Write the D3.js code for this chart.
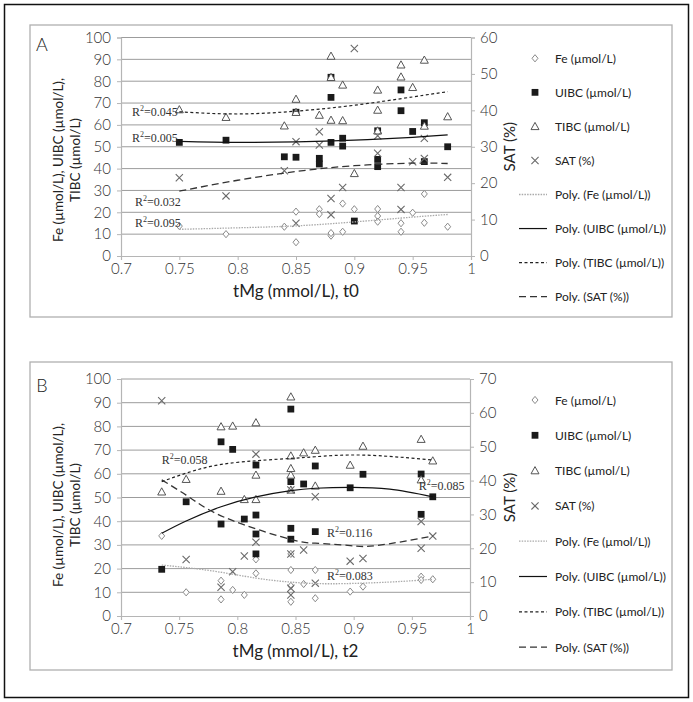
<!DOCTYPE html>
<html><head><meta charset="utf-8">
<script src="https://cdn.jsdelivr.net/npm/d3@7"></script>
<style>body{margin:0;background:#fff}text{font-family:Lato,"Open Sans",sans-serif}</style>
</head><body><svg id="c" width="693" height="702"></svg>
<script>
// ---------- DATA ----------
const xTicks = [0.7, 0.75, 0.8, 0.85, 0.9, 0.95, 1];
const xTickLabels = ["0.7", "0.75", "0.8", "0.85", "0.9", "0.95", "1"];
const leftTicks = [0, 10, 20, 30, 40, 50, 60, 70, 80, 90, 100];
const rightTicksA = [0, 10, 20, 30, 40, 50, 60];
const rightTicksB = [0, 10, 20, 30, 40, 50, 60, 70];
const legendLabels = ["Fe (\u00b5mol/L)", "UIBC (\u00b5mol/L)", "TIBC (\u00b5mol/L)", "SAT (%)",
  "Poly. (Fe (\u00b5mol/L))", "Poly. (UIBC (\u00b5mol/L))", "Poly. (TIBC (\u00b5mol/L))", "Poly. (SAT (%))"];

// Panel A (t0)
const feA = [[0.75,13.7],[0.79,10],[0.84,13.4],[0.85,20.3],[0.85,6.3],[0.87,21.4],[0.87,19.2],[0.88,9.3],[0.88,10.5],
  [0.89,24],[0.89,11.1],[0.9,21.4],[0.92,21.5],[0.92,18.3],[0.92,15.7],[0.94,15],[0.94,11.1],[0.95,19.8],[0.96,28.4],[0.96,15.2],[0.98,13.4]];
const uibcA = [[0.75,52],[0.79,53],[0.84,45.4],[0.85,45.2],[0.85,65.8],[0.87,44.7],[0.87,42.1],[0.88,81.8],[0.88,72.6],[0.88,52],
  [0.89,53.9],[0.89,50.3],[0.9,16],[0.92,57.3],[0.92,44.2],[0.92,40.9],[0.94,76],[0.94,66.5],[0.95,57],[0.96,61],[0.96,43.2],[0.98,50]];
const tibcA = [[0.75,67],[0.79,63.5],[0.84,59.6],[0.85,71.8],[0.85,65.8],[0.87,64.5],[0.88,91.5],[0.88,81.8],[0.88,62.2],[0.89,78.3],
  [0.89,62],[0.9,37.8],[0.92,76],[0.92,66.8],[0.92,57.3],[0.94,87.5],[0.94,82],[0.95,77.2],[0.96,89.7],[0.96,59.5],[0.98,63.8]];
const satA = [[0.75,21.5],[0.79,16.5],[0.84,23.4],[0.85,31.4],[0.85,9],[0.87,34.1],[0.87,30.5],[0.88,15.8],[0.88,11.3],[0.89,18.8],
  [0.9,57],[0.92,33],[0.92,28.2],[0.94,18.8],[0.94,12.8],[0.95,25.9],[0.96,32.3],[0.96,26.8],[0.98,21.6]];
const trendFeA = [[0.75,12.2],[0.8,12.9],[0.85,13.8],[0.9,15.6],[0.95,17.8],[0.98,19.0]];
const trendUibcA = [[0.75,52.5],[0.8,52],[0.85,52.2],[0.9,53],[0.95,54.3],[0.98,55.4]];
const trendTibcA = [[0.75,66],[0.8,65],[0.85,66.3],[0.9,69],[0.95,72.8],[0.98,75.2]];
const trendSatA = [[0.75,17.8],[0.8,20.8],[0.85,23.2],[0.9,24.8],[0.95,25.5],[0.98,25.4]];
const r2A = [["0.045",0.7094,65.9],["0.005",0.7094,54.0],["0.032",0.712,24.7],["0.095",0.712,15.1]];

// Panel B (t2)
const feB = [[0.735,33.8],[0.756,10],[0.786,14.9],[0.786,7],[0.796,11],[0.806,8.9],[0.816,23.9],[0.816,18],[0.846,26.2],[0.846,19.4],
  [0.846,12.7],[0.846,6],[0.857,13.5],[0.867,19.4],[0.867,7.5],[0.897,10.3],[0.908,12.4],[0.958,16.6],[0.958,15.2],[0.968,15.5]];
const uibcB = [[0.735,19.7],[0.756,48.2],[0.786,73.5],[0.786,38.8],[0.796,70.3],[0.806,40.9],[0.816,63.7],[0.816,42.6],[0.816,34.6],
  [0.816,26.2],[0.846,87.3],[0.846,56.7],[0.846,37],[0.846,32.4],[0.857,55.7],[0.867,63.3],[0.867,35.6],[0.897,54.1],[0.908,59.8],
  [0.958,59.9],[0.958,42.9],[0.968,50.3]];
const tibcB = [[0.735,52.4],[0.756,57.7],[0.786,79.9],[0.786,52.7],[0.796,80.2],[0.806,49.2],[0.816,81.6],[0.816,59.5],[0.816,49.2],
  [0.846,92.5],[0.846,67.6],[0.846,62.3],[0.846,59.5],[0.846,53.2],[0.857,68.9],[0.867,70],[0.867,54.9],[0.897,63.7],[0.908,71.7],
  [0.958,74.6],[0.958,57.5],[0.968,65.5]];
const satB = [[0.735,63.6],[0.756,16.7],[0.786,8.5],[0.796,13.1],[0.806,17.7],[0.816,47.8],[0.816,21.8],[0.846,37.2],[0.846,18.3],
  [0.846,8.2],[0.846,6.2],[0.857,19.5],[0.867,35.2],[0.867,9.7],[0.897,16.2],[0.908,17],[0.958,27.9],[0.958,20],[0.968,23.6]];
const trendFeB = [[0.735,21.5],[0.776,19.2],[0.816,16],[0.846,14.3],[0.88,13.6],[0.93,14.3],[0.968,15.5]];
const trendUibcB = [[0.735,34.9],[0.756,40.1],[0.786,46.1],[0.816,50.3],[0.846,52.9],[0.867,53.9],[0.897,54.3],[0.931,53.5],[0.968,50.3]];
const trendTibcB = [[0.735,56.7],[0.776,63],[0.816,65.5],[0.846,66.5],[0.867,67.2],[0.908,67.9],[0.968,65.8]];
const trendSatB = [[0.735,40.2],[0.756,35.7],[0.776,31.3],[0.806,26.9],[0.846,22.6],[0.867,21.5],[0.897,20.8],[0.92,20.8],[0.968,23.6]];
const r2B = [["0.058",0.735,65.8],["0.085",0.956,54.9],["0.116",0.877,35.0],["0.083",0.877,16.9]];

// ---------- DRAW ----------
const svg = d3.select("#c");
svg.append("rect").attr("x",4.5).attr("y",4.5).attr("width",684).attr("height",693)
  .attr("fill","none").attr("stroke","#111").attr("stroke-width",1.5);

const shapes = {
  fe: "M0,-3.6L3,0L0,3.6L-3,0Z",
  sq: "M-3.4,-3.4H3.4V3.4H-3.4Z",
  tri: "M0,-4L4,3.2H-4Z",
  x: "M-3.6,-3.6L3.6,3.6M3.6,-3.6L-3.6,3.6"
};
function marker(g, kind, x, y) {
  const p = g.append("path").attr("transform", `translate(${x},${y})`);
  if (kind === "fe") p.attr("d", shapes.fe).attr("fill", "#fff").attr("stroke", "#8a8a8a").attr("stroke-width", 1);
  if (kind === "sq") p.attr("d", shapes.sq).attr("fill", "#1a1a1a");
  if (kind === "tri") p.attr("d", shapes.tri).attr("fill", "#fff").attr("stroke", "#555").attr("stroke-width", 1);
  if (kind === "x") p.attr("d", shapes.x).attr("fill", "none").attr("stroke", "#6a6a6a").attr("stroke-width", 1.1);
}
const lineStyles = [
  {stroke:"#aaa", w:1.3, dash:"1.5,1.2"},
  {stroke:"#111", w:1.2, dash:null},
  {stroke:"#222", w:1.2, dash:"3,2.5"},
  {stroke:"#333", w:1.3, dash:"7,4"}
];

function panel(cfg) {
  const g = svg.append("g");
  g.append("rect").attr("x", cfg.box[0]).attr("y", cfg.box[1]).attr("width", cfg.box[2]).attr("height", cfg.box[3])
    .attr("fill", "none").attr("stroke", "#b0b0b0").attr("stroke-width", 1.3);
  const x = d3.scaleLinear().domain([0.7, 1]).range([cfg.x0, cfg.x1]);
  const yL = d3.scaleLinear().domain([0, 100]).range([cfg.yb, cfg.yt]);
  const yR = d3.scaleLinear().domain([0, cfg.rmax]).range([cfg.yb, cfg.yt]);

  g.append("g").selectAll("line").data(leftTicks.slice(1)).join("line")
    .attr("x1", cfg.x0).attr("x2", cfg.x1).attr("y1", d => yL(d)).attr("y2", d => yL(d))
    .attr("stroke", "#9c9c9c").attr("stroke-width", 1);

  const axL = g.append("g").attr("transform", `translate(${cfg.x0},0)`)
    .call(d3.axisLeft(yL).tickValues(leftTicks).tickSize(4).tickPadding(6));
  const axR = g.append("g").attr("transform", `translate(${cfg.x1},0)`)
    .call(d3.axisRight(yR).tickValues(cfg.rticks).tickSize(4).tickPadding(5));
  const axB = g.append("g").attr("transform", `translate(0,${cfg.yb})`)
    .call(d3.axisBottom(x).tickValues(xTicks).tickFormat((d,i) => xTickLabels[i]).tickSize(4).tickPadding(3));
  [axL, axR, axB].forEach(a => {
    a.select(".domain").attr("stroke", "#b5b5b5").attr("stroke-width", 1.2);
    a.selectAll(".tick line").attr("stroke", "#b5b5b5");
    a.selectAll("text").attr("fill", "#333").style("font-size", "15px").style("font-family", "Lato, sans-serif").style("font-weight", "300");
  });

  const series = [[cfg.fe,"fe",yL],[cfg.uibc,"sq",yL],[cfg.tibc,"tri",yL],[cfg.sat,"x",yR]];
  series.forEach(([arr, kind, ys]) => arr.forEach(d => marker(g, kind, x(d[0]), ys(d[1]))));

  const trends = [[cfg.tFe,yL],[cfg.tUibc,yL],[cfg.tTibc,yL],[cfg.tSat,yR]];
  trends.forEach(([arr, ys], i) => {
    const ln = d3.line().x(d => x(d[0])).y(d => ys(d[1])).curve(d3.curveNatural);
    const s = lineStyles[i];
    g.append("path").attr("d", ln(arr)).attr("fill", "none").attr("stroke", s.stroke)
      .attr("stroke-width", s.w).attr("stroke-dasharray", s.dash);
  });

  cfg.r2.forEach(r => {
    const t = g.append("text").attr("x", x(r[1])).attr("y", yL(r[2]) + 4)
      .style("font-family", "'Liberation Serif', 'DejaVu Serif', serif").style("font-size", "12px").attr("fill", "#333");
    t.append("tspan").text("R");
    t.append("tspan").text("2").attr("dy", -5).style("font-size", "8px");
    t.append("tspan").text("=" + r[0]).attr("dy", 5);
  });

  g.append("text").attr("x", 42).attr("y", cfg.yt + 13).attr("text-anchor", "middle")
    .style("font-size", "18px").style("font-weight", "300").attr("fill", "#222").text(cfg.letter);
  g.append("text").attr("x", (cfg.x0 + cfg.x1) / 2).attr("y", cfg.yb + 41).attr("text-anchor", "middle")
    .style("font-size", "17px").attr("fill", "#222").text(cfg.xtitle);
  const lt = g.append("text").attr("transform", `translate(63,${cfg.ymid}) rotate(-90)`).attr("text-anchor", "middle")
    .style("font-size", "13.5px").attr("fill", "#222");
  lt.append("tspan").attr("x", 0).attr("y", 0).text("Fe (\u00b5mol/L), UIBC (\u00b5mol/L),");
  lt.append("tspan").attr("x", 0).attr("y", 17).text("TIBC (\u00b5mol/L)");
  g.append("text").attr("transform", `translate(515,${(cfg.yt + cfg.yb) / 2}) rotate(-90)`).attr("text-anchor", "middle")
    .style("font-size", "15px").attr("fill", "#222").text("SAT (%)");

  legendLabels.forEach((lab, i) => {
    const yy = cfg.ly0 + i * cfg.lstep;
    if (i < 4) marker(g, ["fe","sq","tri","x"][i], 535, yy);
    else {
      const s = lineStyles[i - 4];
      g.append("line").attr("x1", 519).attr("x2", 547).attr("y1", yy).attr("y2", yy)
        .attr("stroke", s.stroke).attr("stroke-width", s.w).attr("stroke-dasharray", s.dash);
    }
    g.append("text").attr("x", 555).attr("y", yy + 4.5).style("font-size", "12px").attr("fill", "#222").text(lab);
  });
}

panel({box:[30,25,642,292], x0:121, x1:471, yb:256, yt:37.5, rmax:60, rticks:rightTicksA, ymid:160,
  fe:feA, uibc:uibcA, tibc:tibcA, sat:satA, tFe:trendFeA, tUibc:trendUibcA, tTibc:trendTibcA, tSat:trendSatA,
  r2:r2A, letter:"A", xtitle:"tMg (mmol/L), t0", ly0:58.3, lstep:34.05});
panel({box:[30,362,642,308], x0:121, x1:470, yb:616, yt:379, rmax:70, rticks:rightTicksB, ymid:505,
  fe:feB, uibc:uibcB, tibc:tibcB, sat:satB, tFe:trendFeB, tUibc:trendUibcB, tTibc:trendTibcB, tSat:trendSatB,
  r2:r2B, letter:"B", xtitle:"tMg (mmol/L), t2", ly0:400, lstep:35.3});
</script></body></html>
